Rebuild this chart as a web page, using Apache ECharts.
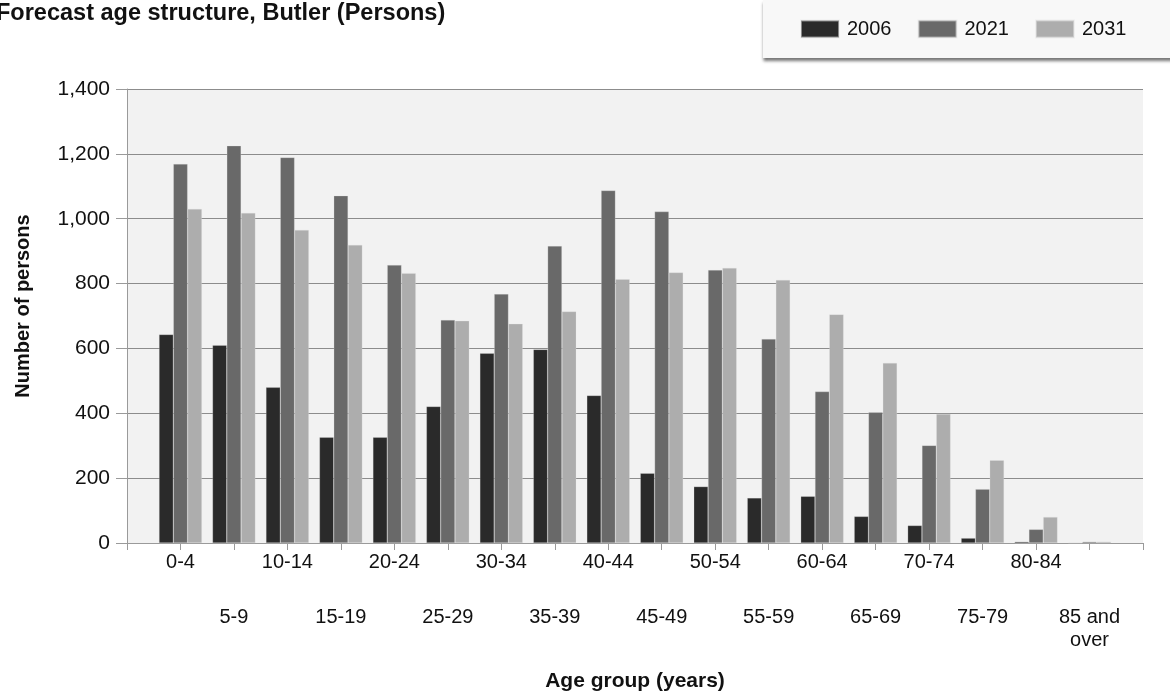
<!DOCTYPE html>
<html>
<head>
<meta charset="utf-8">
<script src="https://cdn.jsdelivr.net/npm/echarts@6/dist/echarts.min.js"></script>
<style>
  html, body { margin: 0; padding: 0; background: #ffffff; }
  #chart { width: 1170px; height: 695px; }
</style>
</head>
<body>
<div id="chart"></div>
<script>
const categories = ['0-4','5-9','10-14','15-19','20-24','25-29','30-34','35-39','40-44','45-49','50-54','55-59','60-64','65-69','70-74','75-79','80-84','85 and over'];
const s2006 = [643, 610, 480, 326, 326, 421, 585, 597, 455, 215, 174, 139, 144, 82, 54, 15, 4, 1];
const s2021 = [1169, 1225, 1189, 1071, 857, 688, 768, 916, 1087, 1022, 842, 629, 467, 403, 301, 166, 42, 4];
const s2031 = [1030, 1018, 965, 919, 832, 685, 676, 714, 813, 834, 848, 811, 705, 555, 398, 255, 80, 4];
const yTicks = [0, 200, 400, 600, 800, 1000, 1200, 1400];
const seriesNames = ['2006', '2021', '2031'];
const seriesColors = ['#2a2a2a', '#696969', '#adadad'];

const xData = [''].concat(categories, ['']);
function pad(arr) { return [null].concat(arr, [null]); }

const FONT = '"Liberation Sans", Arial, sans-serif';
const chart = echarts.init(document.getElementById('chart'), null, { renderer: 'canvas' });

const option = {
  animation: false,
  backgroundColor: '#ffffff',
  textStyle: { fontFamily: FONT },
  title: {
    text: 'Forecast age structure, Butler (Persons)',
    left: -4,
    top: 1,
    padding: 0,
    textStyle: { fontFamily: FONT, fontSize: 23.5, fontWeight: 'bold', color: '#111', lineHeight: 26 }
  },
  legend: {
    data: seriesNames,
    left: 763,
    top: 0,
    width: 400,
    padding: [19, 53, 19, 37],
    itemWidth: 38,
    itemHeight: 17,
    itemGap: 26,
    icon: 'rect',
    backgroundColor: '#f8f8f8',
    shadowColor: 'rgba(0,0,0,0.55)',
    shadowBlur: 3,
    shadowOffsetX: 0,
    shadowOffsetY: 3,
    textStyle: { fontFamily: FONT, fontSize: 20, color: '#111', padding: [0, 0, 0, 3] }
  },
  grid: {
    left: 127, top: 89, width: 1016, height: 454,
    containLabel: false,
    outerBoundsMode: 'none',
    show: true, backgroundColor: '#f2f2f2', borderWidth: 0
  },
  xAxis: {
    type: 'category',
    data: xData,
    boundaryGap: false,
    name: 'Age group (years)',
    nameLocation: 'middle',
    nameGap: 128,
    nameTextStyle: { fontFamily: FONT, fontSize: 21, fontWeight: 'bold', color: '#111' },
    axisLine: { show: true, lineStyle: { color: '#9a9a9a', width: 1 } },
    axisTick: { show: true, length: 7, interval: 0, lineStyle: { color: '#9a9a9a' } },
    splitLine: { show: false },
    axisLabel: {
      interval: 0,
      margin: 8,
      color: '#111',
      fontFamily: FONT,
      fontSize: 20,
      formatter: function (value) {
        const idx = categories.indexOf(value);
        if (idx < 0) return '';
        const lines = value === '85 and over' ? ['85 and', 'over'] : [value];
        const body = lines.map(l => '{t|' + l + '}').join('\n');
        return idx % 2 === 0 ? body : '{sp| }\n' + body;
      },
      rich: {
        t: { fontFamily: FONT, fontSize: 20, lineHeight: 23, color: '#111' },
        sp: { fontSize: 10, lineHeight: 55, height: 55 }
      }
    }
  },
  yAxis: {
    type: 'value',
    min: 0,
    max: 1400,
    interval: 200,
    name: 'Number of persons',
    nameLocation: 'middle',
    nameGap: 94,
    nameRotate: 90,
    nameTextStyle: { fontFamily: FONT, fontSize: 20, fontWeight: 'bold', color: '#111', padding: [0, 0, 0, 20] },
    axisLine: { show: true, lineStyle: { color: '#9a9a9a', width: 1 } },
    axisTick: { show: true, length: 11, lineStyle: { color: '#9a9a9a' } },
    splitLine: { show: true, lineStyle: { color: '#8c8c8c', width: 1 } },
    axisLabel: {
      margin: 17,
      color: '#111',
      fontFamily: FONT,
      fontSize: 21,
      customValues: yTicks,
      formatter: function (v) { return Number(v).toLocaleString('en-US'); }
    }
  },
  series: [s2006, s2021, s2031].map((arr, i) => ({
    name: seriesNames[i],
    type: 'bar',
    data: pad(arr),
    barWidth: 14.3,
    barGap: '0%',
    itemStyle: { color: seriesColors[i], borderColor: 'rgba(230,230,230,0.5)', borderWidth: 0.5 }
  }))
};
chart.setOption(option);
</script>
</body>
</html>
